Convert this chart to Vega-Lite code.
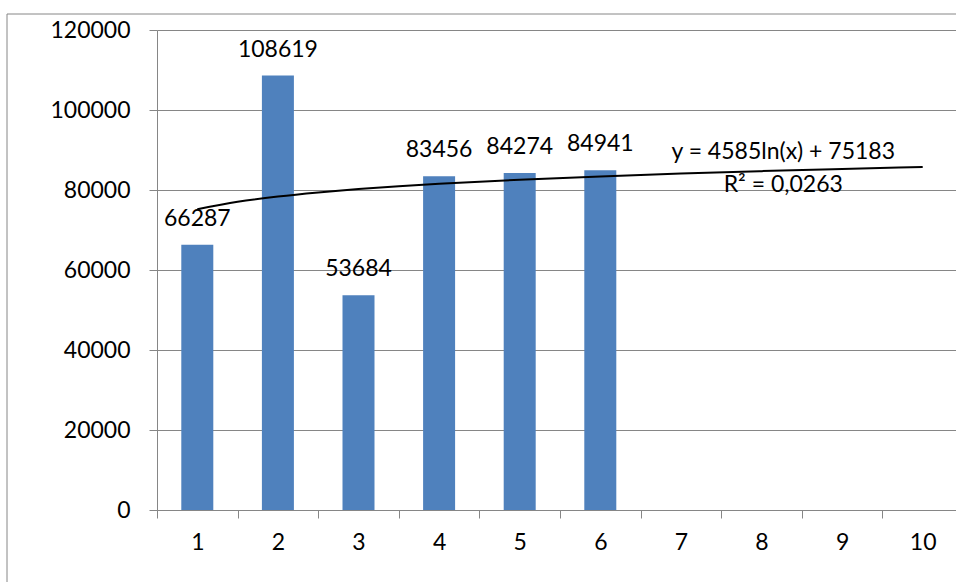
{
  "$schema": "https://vega.github.io/schema/vega-lite/v6.json",
  "autosize": "none",
  "width": 806,
  "height": 480,
  "padding": {"left": 157, "top": 30, "right": 0, "bottom": 72},
  "background": "white",
  "config": {
    "view": {"stroke": null},
    "font": "Lato",
    "text": {"font": "Lato"}
  },
  "datasets": {
    "bars": [
      {"x": 1, "value": 66287},
      {"x": 2, "value": 108619},
      {"x": 3, "value": 53684},
      {"x": 4, "value": 83456},
      {"x": 5, "value": 84274},
      {"x": 6, "value": 84941}
    ],
    "trend": [
      {"x": 1, "value": 75183},
      {"x": 1.5, "value": 77042},
      {"x": 2, "value": 78361},
      {"x": 2.5, "value": 79384},
      {"x": 3, "value": 80220},
      {"x": 3.5, "value": 80927},
      {"x": 4, "value": 81539},
      {"x": 5, "value": 82562},
      {"x": 6, "value": 83398},
      {"x": 7, "value": 84105},
      {"x": 8, "value": 84717},
      {"x": 9, "value": 85257},
      {"x": 10, "value": 85740}
    ]
  },
  "layer": [
    {
      "data": {"values": [{}]},
      "mark": {"type": "rect", "fill": null, "stroke": "#868686", "strokeWidth": 1, "clip": false},
      "encoding": {
        "x": {"datum": -1.361, "type": "quantitative", "scale": {"domain": [0.5, 10.5], "nice": false, "zero": false, "padding": 0}},
        "x2": {"datum": 11.5},
        "y": {"datum": 124000, "type": "quantitative", "scale": {"domain": [0, 120000], "nice": false, "padding": 0}},
        "y2": {"datum": -40000}
      }
    },
    {
      "data": {"name": "bars"},
      "mark": {"type": "bar", "color": "#4F81BD", "size": 32},
      "encoding": {
        "x": {
          "field": "x", "type": "quantitative",
          "scale": {"domain": [0.5, 10.5], "nice": false, "zero": false, "padding": 0},
          "axis": {
            "title": null,
            "values": [1, 2, 3, 4, 5, 6, 7, 8, 9, 10],
            "format": "d",
            "tickOffset": -40.3,
            "labelOffset": 40.3,
            "grid": false,
            "domainColor": "#868686",
            "tickColor": "#868686",
            "tickSize": 8,
            "labelFontSize": 23,
            "labelFont": "Lato",
            "labelColor": "#000000",
            "labelPadding": 13,
            "labelFlush": false,
            "labelOverlap": false
          }
        },
        "y": {
          "field": "value", "type": "quantitative",
          "scale": {"domain": [0, 120000], "nice": false, "padding": 0},
          "axis": {
            "title": null,
            "values": [0, 20000, 40000, 60000, 80000, 100000, 120000],
            "format": "d",
            "grid": true,
            "gridColor": "#868686",
            "gridWidth": 1,
            "domainColor": "#868686",
            "tickColor": "#868686",
            "tickSize": 8,
            "labelFontSize": 23,
            "labelFont": "Lato",
            "labelColor": "#000000",
            "labelPadding": 19,
            "labelFlush": false
          }
        }
      }
    },
    {
      "data": {"name": "bars"},
      "mark": {"type": "text", "fontSize": 23, "font": "Lato", "color": "#000000", "baseline": "alphabetic", "dy": -19},
      "encoding": {
        "x": {"field": "x", "type": "quantitative"},
        "y": {"field": "value", "type": "quantitative"},
        "text": {"field": "value", "type": "quantitative", "format": "d"}
      }
    },
    {
      "data": {"name": "trend"},
      "mark": {"type": "line", "color": "#000000", "strokeWidth": 2, "interpolate": "monotone"},
      "encoding": {
        "x": {"field": "x", "type": "quantitative"},
        "y": {"field": "value", "type": "quantitative"}
      }
    },
    {
      "data": {"values": [{"label": "y = 4585ln(x) + 75183"}]},
      "mark": {"type": "text", "fontSize": 23, "font": "Lato", "color": "#000000", "baseline": "middle", "align": "center"},
      "encoding": {
        "x": {"datum": 8.27, "type": "quantitative"},
        "y": {"datum": 89500, "type": "quantitative"},
        "text": {"field": "label"}
      }
    },
    {
      "data": {"values": [{"label": "R² = 0,0263"}]},
      "mark": {"type": "text", "fontSize": 23, "font": "Lato", "color": "#000000", "baseline": "middle", "align": "center"},
      "encoding": {
        "x": {"datum": 8.27, "type": "quantitative"},
        "y": {"datum": 81250, "type": "quantitative"},
        "text": {"field": "label"}
      }
    }
  ]
}
